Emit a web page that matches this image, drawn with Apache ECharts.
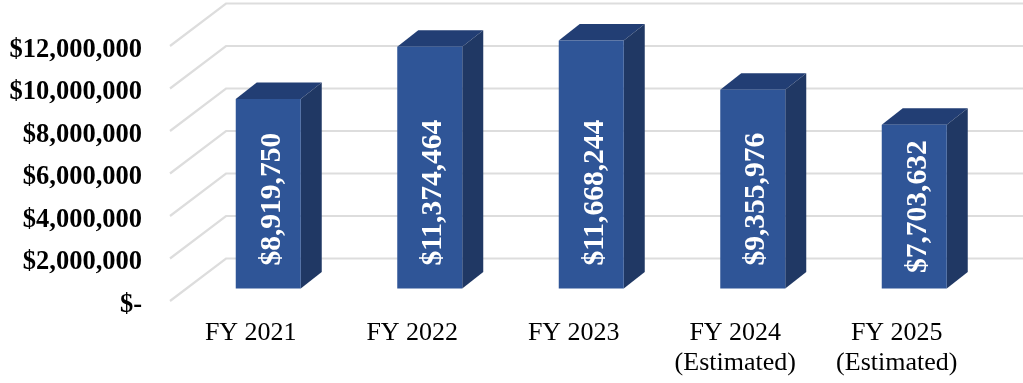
<!DOCTYPE html>
<html>
<head>
<meta charset="utf-8">
<style>html,body{margin:0;padding:0;background:#fff}#c{width:1023px;height:383px}</style>
<script src="https://cdn.jsdelivr.net/npm/echarts@6/dist/echarts.min.js"></script>
</head>
<body>
<div id="c"></div>
<script>
var categories = ['FY 2021', 'FY 2022', 'FY 2023', 'FY 2024\n(Estimated)', 'FY 2025\n(Estimated)'];
var fundingValues = [8919750, 11374464, 11668244, 9355976, 7703632];
var gridTicks = [0, 2000000, 4000000, 6000000, 8000000, 10000000, 12000000];

var SERIF = '"Liberation Serif","Times New Roman",serif';
var FLOOR_DX = 56, FLOOR_DY = 42.5;      // full depth of the chart floor
var BAR_FRONT_DX = 17.5, BAR_FRONT_DY = 12.5; // where the bars' front faces sit in that depth
var BAR_DEPTH_DX = 21, BAR_DEPTH_DY = 16.5;
var BAR_W = 65;
var LABEL_FONT = 'bold 29.5px ' + SERIF;

var measure = document.createElement('canvas').getContext('2d');
function money(v) {
  return v === 0 ? '$-' : '$' + String(v).replace(/\B(?=(\d{3})+$)/g, ',');
}

function renderGrid(params, api) {
  var p = api.coord([0, api.value(1)]);
  var cs = params.coordSys;
  var x0 = cs.x, y = p[1];
  return {
    type: 'polyline',
    shape: { points: [[x0, y], [x0 + FLOOR_DX, y - FLOOR_DY], [x0 + cs.width + 80, y - FLOOR_DY]] },
    style: { fill: null, stroke: '#DDDDDD', lineWidth: 2.2 },
    silent: true
  };
}

function renderBar(params, api) {
  var top = api.coord([api.value(0), api.value(1)]);
  var bottom = api.coord([api.value(0), 0]);
  var l = top[0] - BAR_W / 2 + BAR_FRONT_DX, r = l + BAR_W;
  var t = top[1] - BAR_FRONT_DY, b = bottom[1] - BAR_FRONT_DY;
  var dx = BAR_DEPTH_DX, dy = BAR_DEPTH_DY;
  var text = money(api.value(1));
  measure.font = LABEL_FONT;
  var tw = measure.measureText(text).width;
  var anchorY = Math.max(b - 23, (t + b) / 2 + tw / 2);
  return {
    type: 'group',
    children: [
      { type: 'polygon', shape: { points: [[l, t], [r, t], [r + dx, t - dy], [l + dx, t - dy]] }, style: { fill: '#223E74' } },
      { type: 'polygon', shape: { points: [[r, t], [r + dx, t - dy], [r + dx, b - dy], [r, b]] }, style: { fill: '#203864' } },
      { type: 'rect', shape: { x: l, y: t, width: BAR_W, height: b - t }, style: { fill: '#2F5597' } },
      {
        type: 'text', x: (l + r) / 2 + 4, y: anchorY, rotation: Math.PI / 2,
        style: { text: text, font: LABEL_FONT, fill: '#fff', align: 'left', verticalAlign: 'middle' }
      }
    ]
  };
}

var chart = echarts.init(document.getElementById('c'), null, { renderer: 'canvas' });
chart.setOption({
  animation: false,
  backgroundColor: '#fff',
  grid: { left: 170, top: 46, width: 807.5, height: 255, containLabel: false },
  xAxis: {
    type: 'category', data: categories,
    axisLine: { show: false }, axisTick: { show: false }, splitLine: { show: false },
    axisLabel: { color: '#000', fontFamily: SERIF, fontSize: 26, lineHeight: 30, margin: 17, interval: 0 }
  },
  yAxis: {
    type: 'value', min: 0, max: 12000000, interval: 2000000,
    axisLine: { show: false }, axisTick: { show: false }, splitLine: { show: false },
    axisLabel: { color: '#000', fontFamily: SERIF, fontWeight: 'bold', fontSize: 26.5, margin: 28, verticalAlign: 'top', lineHeight: 8, formatter: money }
  },
  series: [
    { type: 'custom', name: 'grid', clip: false, silent: true, renderItem: renderGrid, data: gridTicks.map(function (v) { return [0, v]; }), z: 1 },
    { type: 'custom', name: 'funding', clip: false, renderItem: renderBar, data: fundingValues.map(function (v, i) { return [i, v]; }), z: 2 }
  ]
});
</script>
</body>
</html>
